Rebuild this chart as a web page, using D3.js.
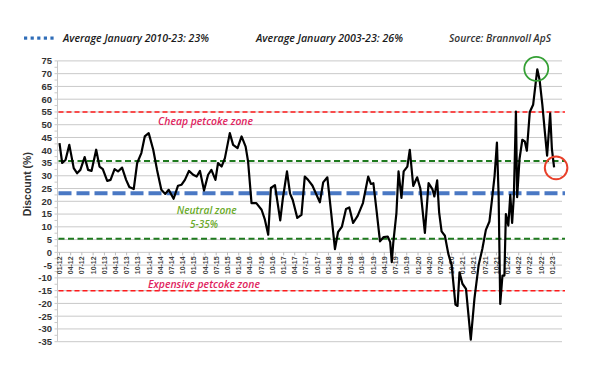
<!DOCTYPE html>
<html><head><meta charset="utf-8">
<script src="https://cdn.jsdelivr.net/npm/d3@7"></script>
<style>body{margin:0;background:#fff;} svg{display:block;}</style>
</head><body>
<script>
// ---- data ----
const dates = [
"2012-01-01","2012-01-23","2012-02-19","2012-03-21","2012-04-26","2012-05-23","2012-06-19","2012-07-24","2012-08-21","2012-09-18","2012-10-26","2012-11-22","2012-12-19",
"2013-01-24","2013-02-20","2013-03-25","2013-04-22","2013-05-25","2013-06-27","2013-07-23","2013-08-28","2013-09-25","2013-10-29","2013-11-26","2013-12-28",
"2014-02-03","2014-03-06","2014-04-10","2014-05-12","2014-06-09","2014-07-19","2014-08-24","2014-09-22","2014-10-19","2014-11-21","2014-12-25",
"2015-01-23","2015-02-19","2015-03-24","2015-04-26","2015-05-23","2015-06-25","2015-07-16","2015-08-14","2015-09-10","2015-10-20","2015-11-16","2015-12-22",
"2016-01-24","2016-02-26","2016-03-17","2016-04-14","2016-05-23","2016-07-05","2016-08-01","2016-08-28","2016-09-19","2016-10-22","2016-12-04","2016-12-25",
"2017-01-28","2017-02-22","2017-03-16","2017-04-22","2017-05-26","2017-06-22","2017-07-19","2017-08-23","2017-09-26","2017-10-23","2017-11-19","2017-12-23",
"2018-01-21","2018-02-23","2018-03-20","2018-04-21","2018-05-24","2018-06-20","2018-07-21","2018-08-27","2018-10-09","2018-11-21","2018-12-13",
"2019-01-02","2019-01-29","2019-02-25","2019-03-27","2019-04-29","2019-05-19","2019-06-01","2019-06-13","2019-07-09","2019-07-26","2019-08-19","2019-09-06","2019-10-06","2019-10-26","2019-11-23","2019-12-25",
"2020-01-20","2020-02-26","2020-03-27","2020-04-27","2020-05-13","2020-06-05","2020-06-21","2020-07-11","2020-08-07","2020-09-04","2020-10-01","2020-11-01","2020-11-18","2020-12-04","2020-12-28",
"2021-01-26","2021-03-06","2021-04-05","2021-05-09","2021-06-08","2021-07-07","2021-08-05","2021-08-25","2021-09-16","2021-10-05","2021-10-19","2021-11-01","2021-11-19","2021-12-05","2021-12-17",
"2022-01-06","2022-01-22","2022-02-06","2022-02-20","2022-03-09","2022-03-19","2022-04-07","2022-04-30","2022-05-20","2022-06-06","2022-06-30","2022-07-27","2022-08-30","2022-09-18","2022-10-10","2022-10-31","2022-11-18","2022-12-13","2022-12-27",
"2023-01-14"
];
const discount = [
42.8,35,36.2,42.1,33,31,32.3,37.3,32.3,31.9,40.2,33.6,32.6,
28,28.4,32.6,31.7,33.2,28.4,25.6,24.8,35,38.9,45.4,46.7,
40.2,32.3,24.5,22.9,24.5,21,26.1,26.5,28.4,31.9,30.4,
29.7,31.9,24.2,30.4,32.3,28.4,35,33.6,36.9,46.7,42.1,40.8,
45.4,41.4,35.6,19.3,19.3,16.7,12.8,6.9,25.2,26.3,12.5,21,
31.7,23,20.5,13.5,14.7,29.7,28.4,26.2,22.5,19.6,27.4,29.4,
16.4,1.3,7.9,10.1,17,17.6,11.5,14.3,19.3,29.7,26.8,
27.1,16,4.3,6,6.2,4,-3.8,3.6,15.4,31.7,21.3,31.7,33.6,40.2,26,29.4,
25,7.6,27.1,24.8,21.9,28.2,15.7,8.2,6.5,-0.6,-5,-20.5,-21,-7.8,-12.3,
-14.3,-34.2,-18,-5,1.3,8.8,12.1,20.3,30,43,22,-20.2,-9.1,-9.1,15,
10.5,22.5,11.5,22,55.1,21.6,36.5,44.1,43.5,39.8,55,57.8,71.7,67.5,58,47,37.9,54.5,40.5,
33.3
];
const xTickLabels = [
"01-12","04-12","07-12","10-12","01-13","04-13","07-13","10-13","01-14","04-14","07-14","10-14",
"01-15","04-15","07-15","10-15","01-16","04-16","07-16","10-16","01-17","04-17","07-17","10-17",
"01-18","04-18","07-18","10-18","01-19","04-19","07-19","10-19","01-20","04-20","07-20","10-20",
"01-21","04-21","07-21","10-21","01-22","04-22","07-22","10-22","01-23"
];
const yTicks = [75,70,65,60,55,50,45,40,35,30,25,20,15,10,5,0,-5,-10,-15,-20,-25,-30,-35];
const refNames  = ["cheap","neutralHigh","average","neutralLow","expensive"];
const refValues = [55, 35.8, 23.2, 5.3, -15];
const legendTexts = ["Average January 2010-23: 23%","Average January 2003-23: 26%","Source: Brannvoll ApS"];

// ---- chart ----
const W = 600, H = 379;
const svg = d3.select("body").append("svg").attr("width", W).attr("height", H);
const parse = d3.timeParse("%Y-%m-%d");
const series = dates.map((d,i)=>({date: parse(d), v: discount[i]}));

const x = d3.scaleTime().domain([new Date(2012,0,1), new Date(2023,0,1)]).range([59.5, 552.5]);
const y = d3.scaleLinear().domain([-35, 75]).range([341.7, 60.9]);
const plotL = 57.5, plotR = 562;

// gridlines
svg.append("g").selectAll("line").data(yTicks).join("line")
  .attr("x1", plotL).attr("x2", plotR)
  .attr("y1", d=>y(d)).attr("y2", d=>y(d))
  .attr("stroke", "#c9c9c9").attr("stroke-width", 1);

// y axis line + minor ticks
svg.append("line").attr("x1", plotL).attr("x2", plotL).attr("y1", y(75)).attr("y2", y(-35))
  .attr("stroke", "#c9c9c9");
svg.append("g").selectAll("line").data(d3.range(-35, 75.1, 2.5)).join("line")
  .attr("x1", plotL-3).attr("x2", plotL)
  .attr("y1", d=>y(d)).attr("y2", d=>y(d)).attr("stroke", "#c9c9c9");

// y tick labels
svg.append("g").selectAll("text").data(yTicks).join("text")
  .attr("x", 52).attr("y", d=>y(d)).attr("dy", "0.36em")
  .attr("text-anchor", "end")
  .style("font-family", "Liberation Sans, Arial, sans-serif")
  .style("font-size", "9.5px").style("font-weight", "bold").style("fill", "#333")
  .text(d=>d);

// y axis title
svg.append("text")
  .attr("transform", `translate(31,${(y(45)+y(10))/2+2}) rotate(-90)`)
  .attr("text-anchor", "middle")
  .style("font-family", "Liberation Sans, Arial, sans-serif")
  .style("font-size", "10.5px").style("font-weight", "bold").style("fill", "#333")
  .text("Discount (%)");

// x ticks and labels (at zero line)
const parseTick = d3.timeParse("%m-%y");
const xTicks = xTickLabels.map(l=>({label:l, date: parseTick(l)}));
svg.append("g").selectAll("line").data(xTicks).join("line")
  .attr("x1", d=>x(d.date)).attr("x2", d=>x(d.date))
  .attr("y1", y(0)).attr("y2", y(0)+3).attr("stroke", "#bbb");
svg.append("g").selectAll("text").data(xTicks).join("text")
  .attr("transform", d=>`translate(${x(d.date)+2.5},${y(0)+4}) rotate(-90)`)
  .attr("text-anchor", "end")
  .style("font-family", "Liberation Sans, Arial, sans-serif")
  .style("font-size", "7px").style("font-weight", "bold").style("fill", "#444")
  .text(d=>d.label);

// reference lines
const refStyle = {
  cheap:       {color:"#ff1a1a", w:1.5, dash:"5,3"},
  expensive:   {color:"#ff1a1a", w:1.5, dash:"5,3"},
  neutralHigh: {color:"#1f7a1f", w:2,   dash:"6,3.5"},
  neutralLow:  {color:"#1f7a1f", w:2,   dash:"6,3.5"},
  average:     {color:"#4a78c4", w:4,   dash:"13,5"}
};
const refs = refNames.map((n,i)=>({name:n, v:refValues[i]}));
svg.append("g").selectAll("line").data(refs).join("line")
  .attr("x1", plotL+1).attr("x2", plotR+3)
  .attr("y1", d=>y(d.v)).attr("y2", d=>y(d.v))
  .attr("stroke", d=>refStyle[d.name].color)
  .attr("stroke-width", d=>refStyle[d.name].w)
  .attr("stroke-dasharray", d=>refStyle[d.name].dash);

// series line
svg.append("path").datum(series)
  .attr("fill", "none").attr("stroke", "#000").attr("stroke-width", 2.2)
  .attr("stroke-linejoin", "round")
  .attr("d", d3.line().x(d=>x(d.date)).y(d=>y(d.v)));

// zone annotations
function ann(txt, cx, by, len, color){
  svg.append("text").attr("x", cx).attr("y", by).attr("text-anchor", "middle")
    .attr("textLength", len).attr("lengthAdjust", "spacingAndGlyphs")
    .style("font-family", "Open Sans, sans-serif").style("font-style", "italic")
    .style("font-weight", "600").style("font-size", "11px").style("fill", color)
    .text(txt);
}
ann("Cheap petcoke zone", 205.5, 124.5, 95, "#e0245e");
ann("Neutral zone", 206.7, 214, 60, "#6aaa2a");
ann("5-35%", 204, 227.5, 28, "#6aaa2a");
ann("Expensive petcoke zone", 204, 287.5, 112, "#e0245e");

// highlight circles
const maxPt = series.reduce((a,b)=> b.v > a.v ? b : a);
const lastPt = series[series.length-1];
svg.append("circle").attr("cx", x(maxPt.date)-1).attr("cy", y(maxPt.v)-0.5).attr("r", 12)
  .attr("fill", "none").attr("stroke", "#35a035").attr("stroke-width", 1.8);
svg.append("circle").attr("cx", x(lastPt.date)+2).attr("cy", y(lastPt.v)+0.5).attr("r", 11.3)
  .attr("fill", "none").attr("stroke", "#e8402a").attr("stroke-width", 2);

// legend
svg.append("g").selectAll("rect").data(d3.range(5)).join("rect")
  .attr("x", d=>24 + d*6.6).attr("y", 36.5).attr("width", 3.2).attr("height", 3.2)
  .attr("fill", "#2f6db8");
const legX = [63, 256, 449], legLen = [146, 147, 102];
legendTexts.forEach((t,i)=>{
  svg.append("text").attr("x", legX[i]).attr("y", 42)
    .attr("textLength", legLen[i]).attr("lengthAdjust", "spacingAndGlyphs")
    .style("font-family", "Open Sans, sans-serif").style("font-style", "italic")
    .style("font-weight", "600")
    .style("font-size", "11px").style("fill", i==2 ? "#333" : "#1a1a1a")
    .text(t);
});
</script>
</body></html>
